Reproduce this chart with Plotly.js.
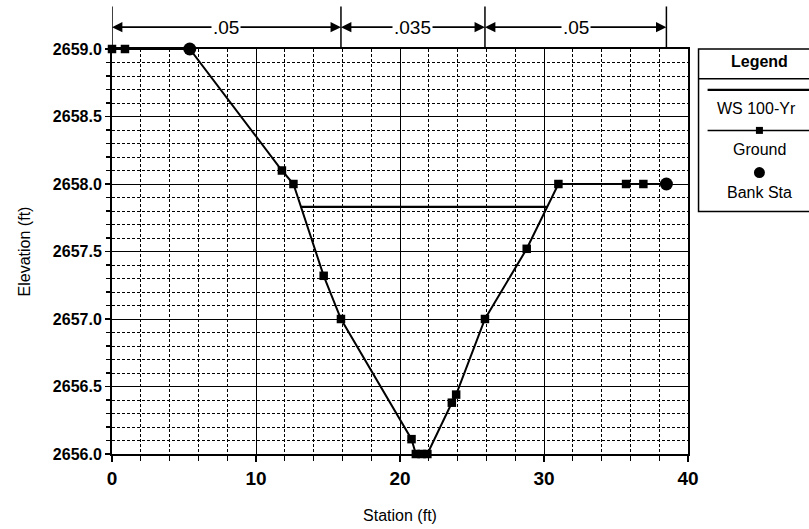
<!DOCTYPE html>
<html>
<head>
<meta charset="utf-8">
<script src="https://cdn.plot.ly/plotly-3.0.1.min.js"></script>
<style>
  html, body { margin: 0; padding: 0; background: #fff; }
  #chart { width: 809px; height: 529px; }
</style>
</head>
<body>
<div id="chart"></div>
<script>
// Cross section: ground profile, bank stations and the 100-yr water surface
const groundStation = [0, 0.9, 5.4, 11.8, 12.6, 14.7, 15.9, 20.8, 21.1, 21.5, 21.9, 23.6, 23.9, 25.9, 28.8, 31.0, 35.7, 36.9, 38.5];
const groundElev    = [2659.0, 2659.0, 2659.0, 2658.1, 2658.0, 2657.32, 2657.0, 2656.11, 2656.0, 2656.0, 2656.0, 2656.38, 2656.44, 2657.0, 2657.52, 2658.0, 2658.0, 2658.0, 2658.0];
const bankStation = [5.4, 38.5];
const bankElev    = [2659.0, 2658.0];
const wsStation = [13.1, 30.2];
const wsElev    = [2657.83, 2657.83];
// Manning's n zones along the section
const nBounds = [0, 15.9, 25.9, 38.5];
const nLabels = ['.05', '.035', '.05'];
const seriesNames = ['WS 100-Yr', 'Ground', 'Bank Sta'];

const FONT = 'Liberation Sans, Arial, Helvetica, sans-serif';

const traces = [
  {
    name: seriesNames[0], x: wsStation, y: wsElev, type: 'scatter', mode: 'lines',
    line: { color: '#000', width: 2.2 }, cliponaxis: false
  },
  {
    name: seriesNames[1], x: groundStation, y: groundElev, type: 'scatter', mode: 'lines+markers',
    line: { color: '#000', width: 2 },
    marker: { symbol: 'square', size: 8.5, color: '#000' }, cliponaxis: false
  },
  {
    name: seriesNames[2], x: bankStation, y: bankElev, type: 'scatter', mode: 'markers',
    marker: { symbol: 'circle', size: 13, color: '#000' }, cliponaxis: false
  }
];

const shapes = [];
const annotations = [];

// n-value zone markers above the plot
const zoneY = 1.054;
nBounds.forEach(function (s) {
  shapes.push({ type: 'line', xref: 'x', yref: 'paper', x0: s, x1: s, y0: 1, y1: 1.105,
                line: { color: '#000', width: 1.5 } });
});
for (let i = 0; i < nLabels.length; i++) {
  const a = nBounds[i], b = nBounds[i + 1], c = (a + b) / 2;
  [a, b].forEach(function (end) {
    annotations.push({ xref: 'x', yref: 'paper', x: end, y: zoneY, axref: 'x', ayref: 'pixel',
                       ax: c, ay: 0, text: ' ', xanchor: 'center', yanchor: 'middle',
                       showarrow: true, arrowhead: 2, arrowsize: 1.3,
                       arrowwidth: 1.6, arrowcolor: '#000' });
  });
}
for (let i = 0; i < nLabels.length; i++) {
  const c = (nBounds[i] + nBounds[i + 1]) / 2;
  annotations.push({ xref: 'x', yref: 'paper', x: c, y: zoneY, text: nLabels[i], showarrow: false,
                     xanchor: 'center', yanchor: 'middle',
                     bgcolor: '#fff', borderpad: 1, font: { family: FONT, size: 19, color: '#000' } });
}

// Legend panel on the right
const lx0 = 1.0183, lx1 = 1.25, lxc = 1.124;
shapes.push({ type: 'rect', xref: 'paper', yref: 'paper', x0: lx0, x1: lx1, y0: 0.599, y1: 1.0,
              line: { color: '#000', width: 1.5 }, fillcolor: 'rgba(0,0,0,0)' });
shapes.push({ type: 'line', xref: 'paper', yref: 'paper', x0: lx0, x1: lx1, y0: 0.9267, y1: 0.9267,
              line: { color: '#000', width: 1.5 } });
shapes.push({ type: 'line', xref: 'paper', yref: 'paper', x0: 1.034, x1: lx1, y0: 0.899, y1: 0.899,
              line: { color: '#000', width: 2.2 } });
shapes.push({ type: 'line', xref: 'paper', yref: 'paper', x0: 1.034, x1: lx1, y0: 0.799, y1: 0.799,
              line: { color: '#000', width: 1.5 } });
shapes.push({ type: 'rect', xref: 'paper', yref: 'paper', xsizemode: 'pixel', ysizemode: 'pixel',
              xanchor: lxc, yanchor: 0.799, x0: -3.5, x1: 3.5, y0: -3.5, y1: 3.5,
              fillcolor: '#000', line: { width: 0 } });
shapes.push({ type: 'circle', xref: 'paper', yref: 'paper', xsizemode: 'pixel', ysizemode: 'pixel',
              xanchor: lxc, yanchor: 0.695, x0: -5.5, x1: 5.5, y0: -5.5, y1: 5.5,
              fillcolor: '#000', line: { width: 0 } });

annotations.push({ xref: 'paper', yref: 'paper', x: lxc, y: 0.969, text: '<b>Legend</b>', showarrow: false,
                   xanchor: 'center', yanchor: 'middle',
                   font: { family: FONT, size: 16, color: '#000' } });
const legendY = [0.8525, 0.7509, 0.6449];
seriesNames.forEach(function (n, i) {
  annotations.push({ xref: 'paper', yref: 'paper', x: lxc - (i === 0 ? 0.005 : 0), y: legendY[i], text: n,
                     xanchor: 'center', yanchor: 'middle',
                     showarrow: false, font: { family: FONT, size: 16, color: '#000' } });
});

const layout = {
  width: 809, height: 529,
  margin: { l: 112, r: 121, t: 49, b: 75, pad: 0 },
  paper_bgcolor: '#fff', plot_bgcolor: '#fff',
  showlegend: false,
  font: { family: FONT, size: 16, color: '#000' },
  xaxis: {
    range: [0, 40], tick0: 0, dtick: 10,
    showgrid: true, gridcolor: '#000', gridwidth: 1, zeroline: false,
    showline: true, linecolor: '#000', linewidth: 2, mirror: true,
    ticks: 'outside', ticklen: 6, tickwidth: 1.5, tickcolor: '#000',
    tickfont: { family: FONT, size: 19, color: '#000', weight: 'bold' },
    title: { text: 'Station (ft)', font: { family: FONT, size: 16, color: '#000' }, standoff: 22 },
    minor: { dtick: 2, showgrid: true, gridcolor: '#000', gridwidth: 1, griddash: '3px,2px',
             ticks: 'outside', ticklen: 5, tickwidth: 1.2, tickcolor: '#000' }
  },
  yaxis: {
    range: [2656, 2659], tick0: 2656, dtick: 0.5, tickformat: '.1f',
    showgrid: true, gridcolor: '#000', gridwidth: 1, zeroline: false,
    showline: true, linecolor: '#000', linewidth: 2, mirror: true,
    ticks: 'outside', ticklen: 5, tickwidth: 1.5, tickcolor: '#000',
    tickfont: { family: FONT, size: 16, color: '#000', weight: 'bold' },
    title: { text: 'Elevation (ft)', font: { family: FONT, size: 16, color: '#000' }, standoff: 18 },
    minor: { dtick: 0.1, showgrid: true, gridcolor: '#000', gridwidth: 1, griddash: '3px,2px',
             ticks: 'outside', ticklen: 4, tickwidth: 1.2, tickcolor: '#000' }
  },
  shapes: shapes,
  annotations: annotations
};

Plotly.newPlot('chart', traces, layout, { displayModeBar: false, staticPlot: true });
</script>
</body>
</html>
